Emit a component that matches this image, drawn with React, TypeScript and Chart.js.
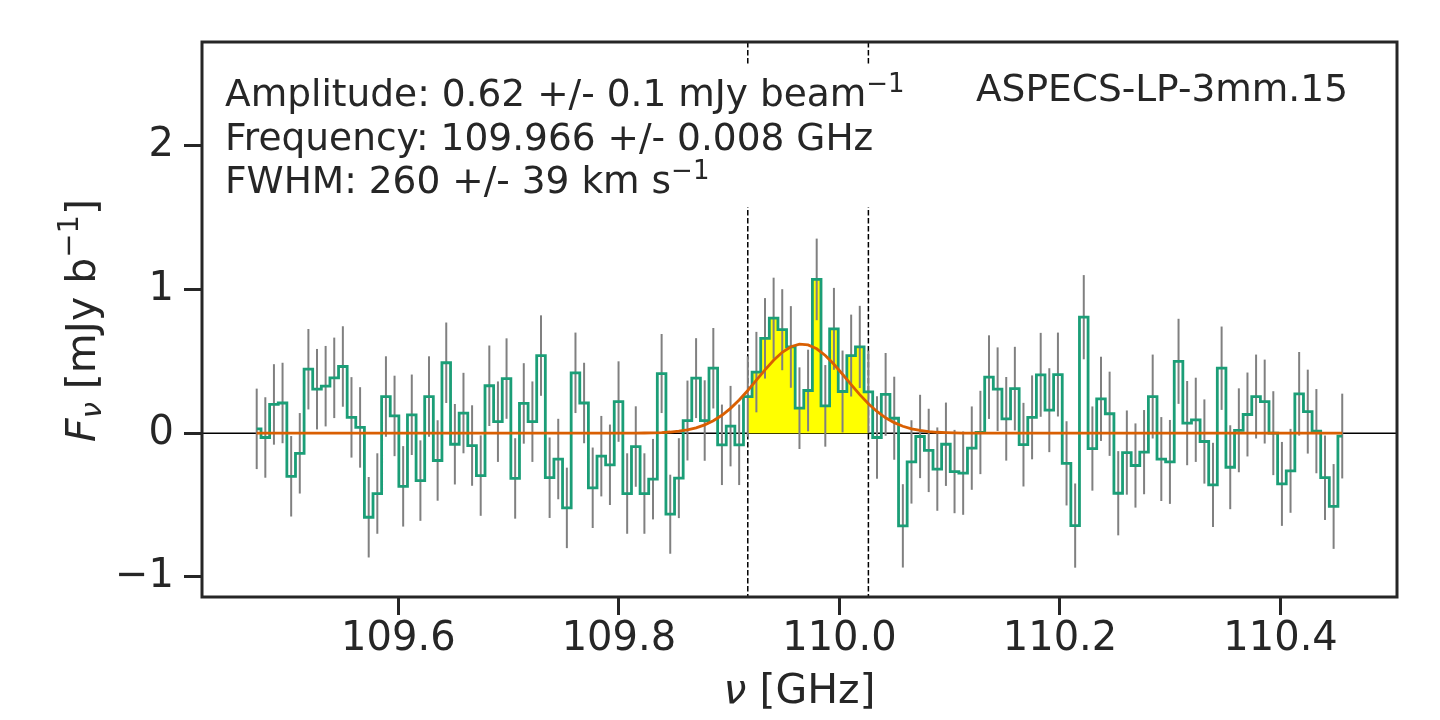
import React, { useEffect, useRef } from "react";
import { Chart, registerables } from "chart.js";

Chart.register(...registerables);

// ---- data -------------------------------------------------------------
// channel grid (GHz)
const FREQ_START = 109.47156;
const CHANNEL_WIDTH = 0.0078125;

// flux density per channel [mJy/beam]
const FLUX = [
  0.03, -0.03, 0.2, 0.21, -0.3, -0.14, 0.445, 0.306, 0.327, 0.385,
  0.464, 0.11, 0.04, -0.585, -0.42, 0.255, 0.12, -0.37, 0.128, -0.33,
  0.255, -0.19, 0.49, -0.077, 0.14, -0.086, -0.295, 0.33, 0.08, 0.38,
  -0.315, 0.207, 0.08, 0.54, -0.31, -0.18, -0.52, 0.42, 0.21, -0.38,
  -0.16, -0.22, 0.22, -0.42, -0.093, -0.42, -0.32, 0.415, -0.564, -0.313,
  0.088, 0.383, 0.088, 0.452, -0.081, 0.049, -0.081, 0.255, 0.425, 0.66,
  0.8, 0.72, 0.6, 0.174, 0.297, 1.07, 0.19, 0.726, 0.29, 0.54,
  0.6, 0.288, -0.03, 0.27, 0.104, -0.645, -0.2, -0.023, -0.12, -0.25,
  -0.077, -0.267, -0.278, -0.104, 0.005, 0.39, 0.306, 0.1, 0.31, -0.08,
  0.11, 0.406, 0.16, 0.408, -0.21, -0.643, 0.807, -0.107, 0.239, 0.135,
  -0.418, -0.135, -0.225, -0.132, 0.255, -0.18, -0.2, 0.5, 0.07, 0.093,
  -0.058, -0.36, 0.452, -0.237, 0.02, 0.13, 0.255, 0.22, 0.0, -0.353,
  -0.262, 0.274, 0.15, 0.014, -0.31, -0.51, -0.02,
];

// 1-sigma error per channel [mJy/beam]
const FLUX_ERR = [
  0.28, 0.28, 0.28, 0.28, 0.28, 0.28, 0.28, 0.28, 0.28, 0.28,
  0.28, 0.28, 0.28, 0.28, 0.28, 0.28, 0.28, 0.28, 0.28, 0.28,
  0.28, 0.28, 0.28, 0.28, 0.28, 0.28, 0.28, 0.28, 0.28, 0.28,
  0.28, 0.28, 0.28, 0.28, 0.28, 0.28, 0.28, 0.28, 0.28, 0.28,
  0.28, 0.28, 0.28, 0.28, 0.28, 0.28, 0.28, 0.275, 0.275, 0.278,
  0.278, 0.278, 0.28, 0.28, 0.28, 0.28, 0.28, 0.28, 0.28, 0.28,
  0.282, 0.282, 0.284, 0.284, 0.284, 0.284, 0.284, 0.285, 0.285, 0.285,
  0.286, 0.286, 0.287, 0.288, 0.289, 0.29, 0.29, 0.29, 0.29, 0.29,
  0.29, 0.29, 0.29, 0.29, 0.29, 0.291, 0.291, 0.291, 0.291, 0.291,
  0.292, 0.292, 0.292, 0.292, 0.293, 0.293, 0.293, 0.293, 0.293, 0.293,
  0.293, 0.293, 0.293, 0.293, 0.292, 0.292, 0.292, 0.296, 0.293, 0.293,
  0.293, 0.293, 0.29, 0.292, 0.292, 0.292, 0.292, 0.292, 0.292, 0.292,
  0.292, 0.291, 0.292, 0.293, 0.294, 0.295, 0.295,
];

// line channels (highlighted, between dashed markers)
const LINE_FIRST = 57;
const LINE_LAST = 71;

// Gaussian fit parameters
const FIT_AMP = 0.62; // mJy/beam
const FIT_FREQ = 109.966; // GHz
const FIT_FWHM_KMS = 260; // km/s

const X_TICKS = [109.6, 109.8, 110.0, 110.2, 110.4];
const Y_TICKS = [-1, 0, 1, 2];
const X_MIN = 109.42195;
const X_MAX = 110.5056;
const Y_MIN = -1.14;
const Y_MAX = 2.722;

const SOURCE_NAME = "ASPECS-LP-3mm.15";

// ---- derived ----------------------------------------------------------
const FREQ = FLUX.map((_, i) => FREQ_START + i * CHANNEL_WIDTH);
const FWHM_GHZ = (FIT_FWHM_KMS / 299792.458) * FIT_FREQ;
const SIGMA_GHZ = FWHM_GHZ / (2 * Math.sqrt(2 * Math.log(2)));
const FIT = FREQ.map(
  (f) => FIT_AMP * Math.exp(-0.5 * Math.pow((f - FIT_FREQ) / SIGMA_GHZ, 2))
);

const INK = "#262626";
const FONT = "'DejaVu Sans', 'Liberation Sans', sans-serif";

type Part = { t: string; size: number; dy?: number; italic?: boolean };

function drawParts(
  ctx: CanvasRenderingContext2D,
  parts: Part[],
  x: number,
  y: number,
  align: "left" | "center" | "right"
) {
  const widths = parts.map((p) => {
    ctx.font = `${p.italic ? "italic " : ""}${p.size}px ${FONT}`;
    return ctx.measureText(p.t).width;
  });
  const total = widths.reduce((a, b) => a + b, 0);
  let cx = align === "left" ? x : align === "center" ? x - total / 2 : x - total;
  ctx.textAlign = "left";
  ctx.textBaseline = "alphabetic";
  parts.forEach((p, i) => {
    ctx.font = `${p.italic ? "italic " : ""}${p.size}px ${FONT}`;
    ctx.fillText(p.t, cx, y + (p.dy || 0));
    cx += widths[i];
  });
}

const decorPlugin = {
  id: "spectrumDecor",
  beforeDatasetsDraw(chart: any) {
    const { ctx, chartArea: a, scales } = chart;
    const xs = scales.x;
    const ys = scales.y;
    ctx.save();
    ctx.beginPath();
    ctx.rect(a.left, a.top, a.right - a.left, a.bottom - a.top);
    ctx.clip();
    // zero line
    const y0 = ys.getPixelForValue(0);
    ctx.strokeStyle = "#000000";
    ctx.lineWidth = 1.5;
    ctx.beginPath();
    ctx.moveTo(a.left, y0);
    ctx.lineTo(a.right, y0);
    ctx.stroke();
    // dashed line-window markers
    ctx.setLineDash([5.5, 2.5]);
    [FREQ[LINE_FIRST], FREQ[LINE_LAST]].forEach((f) => {
      const px = xs.getPixelForValue(f);
      ctx.beginPath();
      ctx.moveTo(px, a.top);
      ctx.lineTo(px, a.bottom);
      ctx.stroke();
    });
    ctx.restore();
  },
  afterDatasetDraw(chart: any, args: any) {
    if (args.index !== 2) return;
    const { ctx, scales } = chart;
    const xs = scales.x;
    const ys = scales.y;
    ctx.save();
    ctx.strokeStyle = "#808080";
    ctx.lineWidth = 2;
    FLUX.forEach((v, i) => {
      const px = xs.getPixelForValue(FREQ[i]);
      ctx.beginPath();
      ctx.moveTo(px, ys.getPixelForValue(v - FLUX_ERR[i]));
      ctx.lineTo(px, ys.getPixelForValue(v + FLUX_ERR[i]));
      ctx.stroke();
    });
    ctx.restore();
  },
  afterDraw(chart: any) {
    const { ctx, chartArea: a } = chart;
    ctx.save();
    // text box (white background)
    ctx.fillStyle = "#ffffff";
    ctx.fillRect(214, 66, 712, 141);
    ctx.fillStyle = INK;
    const fs = 37.5;
    const sup = 26;
    drawParts(
      ctx,
      [
        { t: `Amplitude: ${FIT_AMP} +/- 0.1 mJy beam`, size: fs },
        { t: "\u22121", size: sup, dy: -14 },
      ],
      225,
      106,
      "left"
    );
    drawParts(
      ctx,
      [{ t: `Frequency: ${FIT_FREQ} +/- 0.008 GHz`, size: fs }],
      225,
      149.5,
      "left"
    );
    drawParts(
      ctx,
      [
        { t: `FWHM: ${FIT_FWHM_KMS} +/- 39 km s`, size: fs },
        { t: "\u22121", size: sup, dy: -14 },
      ],
      225,
      193,
      "left"
    );
    drawParts(ctx, [{ t: SOURCE_NAME, size: fs }], 1348, 101, "right");

    // x-axis title
    drawParts(
      ctx,
      [
        { t: "\u03bd", size: 41, italic: true },
        { t: " [GHz]", size: 41 },
      ],
      (a.left + a.right) / 2,
      703,
      "center"
    );
    // y-axis title
    ctx.translate(95, (a.top + a.bottom) / 2 + 1);
    ctx.rotate(-Math.PI / 2);
    drawParts(
      ctx,
      [
        { t: "F", size: 41, italic: true },
        { t: "\u03bd", size: 29, italic: true, dy: 6 },
        { t: " [mJy b", size: 41 },
        { t: "\u22121", size: 29, dy: -17 },
        { t: "]", size: 41 },
      ],
      0,
      0,
      "center"
    );
    ctx.restore();

    // spines
    ctx.save();
    ctx.strokeStyle = INK;
    ctx.lineWidth = 3;
    ctx.strokeRect(a.left, a.top, a.right - a.left, a.bottom - a.top);
    ctx.restore();
  },
};

export default function App() {
  const ref = useRef<HTMLCanvasElement | null>(null);

  useEffect(() => {
    if (!ref.current) return;
    const tickFont = { family: FONT, size: 40 };
    const chart = new Chart(ref.current, {
      type: "line",
      data: {
        datasets: [
          {
            label: "Gaussian fit",
            data: FREQ.map((x, i) => ({ x, y: FIT[i] })),
            borderColor: "#d95f02",
            borderWidth: 2.8,
            pointRadius: 0,
            tension: 0,
            fill: false,
            order: 0,
          },
          {
            label: "spectrum",
            data: FREQ.map((x, i) => ({ x, y: FLUX[i] })),
            borderColor: "#1b9e77",
            borderWidth: 2.8,
            pointRadius: 0,
            stepped: "middle",
            fill: false,
            order: 1,
          },
          {
            label: "line channels",
            data: FREQ.slice(LINE_FIRST, LINE_LAST + 1).map((x, i) => ({
              x,
              y: FLUX[LINE_FIRST + i],
            })),
            borderColor: "rgba(0,0,0,0)",
            borderWidth: 0,
            backgroundColor: "#ffff00",
            pointRadius: 0,
            stepped: "middle",
            fill: "origin",
            order: 2,
          },
        ],
      },
      options: {
        animation: false,
        responsive: false,
        devicePixelRatio: 1,
        layout: { padding: { left: 0, right: 43, top: 42, bottom: 0 } },
        plugins: {
          legend: { display: false },
          tooltip: { enabled: false },
        },
        scales: {
          x: {
            type: "linear",
            min: X_MIN,
            max: X_MAX,
            afterFit: (s: any) => {
              s.height = 123;
            },
            afterBuildTicks: (s: any) => {
              s.ticks = X_TICKS.map((v) => ({ value: v }));
            },
            ticks: {
              autoSkip: false,
              maxRotation: 0,
              padding: 1,
              color: INK,
              font: tickFont,
              callback: (v: any) => Number(v).toFixed(1),
            },
            grid: {
              drawOnChartArea: false,
              drawTicks: true,
              tickLength: 18,
              tickWidth: 3,
              tickColor: INK,
            },
            border: { display: false },
          },
          y: {
            type: "linear",
            min: Y_MIN,
            max: Y_MAX,
            afterFit: (s: any) => {
              s.width = 202;
            },
            afterBuildTicks: (s: any) => {
              s.ticks = Y_TICKS.map((v) => ({ value: v }));
            },
            ticks: {
              autoSkip: false,
              padding: 10,
              color: INK,
              font: tickFont,
              callback: (v: any) =>
                Number(v) < 0 ? "\u2212" + Math.abs(Number(v)) : String(v),
            },
            grid: {
              drawOnChartArea: false,
              drawTicks: true,
              tickLength: 18,
              tickWidth: 3,
              tickColor: INK,
            },
            border: { display: false },
          },
        },
      },
      plugins: [decorPlugin],
    } as any);
    return () => chart.destroy();
  }, []);

  return (
    <div
      style={{
        position: "absolute",
        left: 0,
        top: 0,
        width: 1440,
        height: 720,
        background: "#ffffff",
      }}
    >
      <canvas
        ref={ref}
        width={1440}
        height={720}
        style={{ display: "block", width: 1440, height: 720 }}
      />
    </div>
  );
}
